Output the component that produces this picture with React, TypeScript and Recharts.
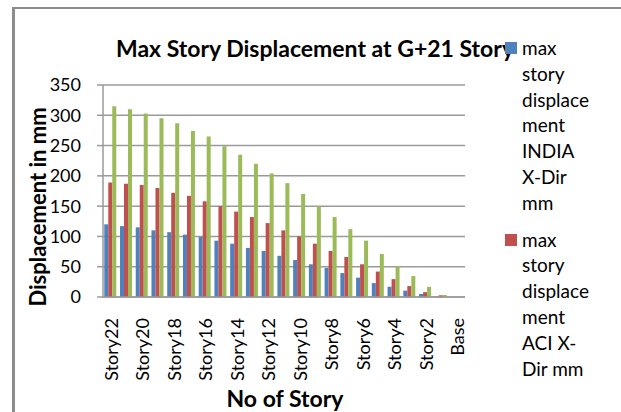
import * as React from "react";
import { BarChart, Bar, XAxis, YAxis, CartesianGrid, Label } from "recharts";

const stories = [
  "Story22", "Story21", "Story20", "Story19", "Story18", "Story17", "Story16", "Story15",
  "Story14", "Story13", "Story12", "Story11", "Story10", "Story9", "Story8", "Story7",
  "Story6", "Story5", "Story4", "Story3", "Story2", "Story1", "Base",
];
const indiaX = [120, 117, 115, 110, 107, 103, 99, 93, 88, 81, 76, 68, 61, 54, 48, 39.5, 32, 23, 17, 10.5, 5, 0.5, 0];
const aciX = [189, 187, 185, 180, 172, 167, 158, 150, 141, 132, 122, 110, 100, 88, 76, 66, 54, 42, 29.5, 18, 8, 2.8, 0];
const thirdSeries = [315, 310, 303, 295, 287, 274, 265, 249, 235, 220, 204, 188, 170, 150, 132, 112, 93, 71, 51, 34.5, 16.7, 3.3, 0];
const yTicks = [0, 50, 100, 150, 200, 250, 300, 350];

const BLUE = "#4f81bd";
const RED = "#c0504d";
const GREEN = "#9bbb59";
const FONT = "Lato, 'Open Sans', sans-serif";

const data = stories.map((s, i) => ({ story: s, india: indiaX[i], aci: aciX[i], other: thirdSeries[i] }));

const legendItems = [
  { color: BLUE, lines: ["max", "story", "displace", "ment", "INDIA", "X-Dir", "mm"] },
  { color: RED, lines: ["max", "story", "displace", "ment", "ACI X-", "Dir mm"] },
];

// rotated category label, reads bottom-to-top
const StoryTick = (props: any) => {
  const { x, y, payload } = props;
  return (
    <text
      transform={`translate(${x}, ${y + 21}) rotate(-90)`}
      textAnchor="end"
      dominantBaseline="central"
      fontSize={18}
      fontFamily={FONT}
      fill="#000"
    >
      {payload.value}
    </text>
  );
};

export default function App() {
  return (
    <div style={{ position: "fixed", left: 0, top: 0, width: 621, height: 412, overflow: "hidden", background: "#fff" }}>
      <div
        style={{
          position: "absolute", left: 12, top: 7, width: 700, height: 500,
          borderLeft: "3px solid #8c8c8c", borderTop: "2px solid #8c8c8c",
        }}
      />
      <BarChart
        width={621}
        height={412}
        data={data}
        margin={{ top: 85, right: 156, left: 43, bottom: 35 }}
        barCategoryGap="8%"
        barGap={0}
        style={{ position: "absolute", left: 0, top: 0 }}
      >
        <CartesianGrid vertical={false} stroke="#9a9a9a" strokeWidth={1.5} />
        <XAxis
          dataKey="story"
          interval={1}
          height={80}
          tickLine={false}
          tickSize={0}
          tickMargin={0}
          tick={<StoryTick />}
          axisLine={{ stroke: "#9a9a9a", strokeWidth: 1.5 }}
        >
          <Label
            content={() => (
              <text x={285} y={398} textAnchor="middle" dominantBaseline="central" fontSize={23} fontWeight={700} fontFamily={FONT} fill="#000">
                No of Story
              </text>
            )}
          />
        </XAxis>
        <YAxis
          width={60}
          domain={[0, 350]}
          ticks={yTicks}
          interval={0}
          tickSize={6}
          tickMargin={16}
          tickLine={{ stroke: "#9a9a9a", strokeWidth: 1.5 }}
          axisLine={{ stroke: "#9a9a9a", strokeWidth: 1.5 }}
          tick={{ fontSize: 18, fontFamily: FONT, fill: "#000" }}
        >
          <Label
            content={() => (
              <text
                x={37}
                y={207}
                transform="rotate(-90, 37, 207)"
                textAnchor="middle"
                dominantBaseline="central"
                fontSize={22}
                fontWeight={700}
                fontFamily={FONT}
                fill="#000"
              >
                Displacement in mm
              </text>
            )}
          />
        </YAxis>
        <Bar dataKey="india" name="max story displacement INDIA X-Dir mm" fill={BLUE} isAnimationActive={false} />
        <Bar dataKey="aci" name="max story displacement ACI X-Dir mm" fill={RED} isAnimationActive={false} />
        <Bar dataKey="other" name="max story displacement" fill={GREEN} isAnimationActive={false} />
      </BarChart>
      <div
        style={{
          position: "absolute", left: 315, top: 48, transform: "translate(-50%, -50%)",
          whiteSpace: "nowrap", fontFamily: FONT, fontWeight: 700, fontSize: 23, color: "#000",
        }}
      >
        Max Story Displacement at G+21 Story
      </div>
      <div style={{ position: "absolute", left: 505, top: 35, fontFamily: FONT, fontSize: 19, color: "#000" }}>
        {legendItems.map((item, i) => (
          <div key={i} style={{ position: "relative", paddingLeft: 17, marginBottom: 11, lineHeight: "25.8px" }}>
            <span style={{ position: "absolute", left: 0, top: 7, width: 12, height: 12, background: item.color }} />
            {item.lines.map((l, j) => (
              <div key={j}>{l}</div>
            ))}
          </div>
        ))}
      </div>
    </div>
  );
}
